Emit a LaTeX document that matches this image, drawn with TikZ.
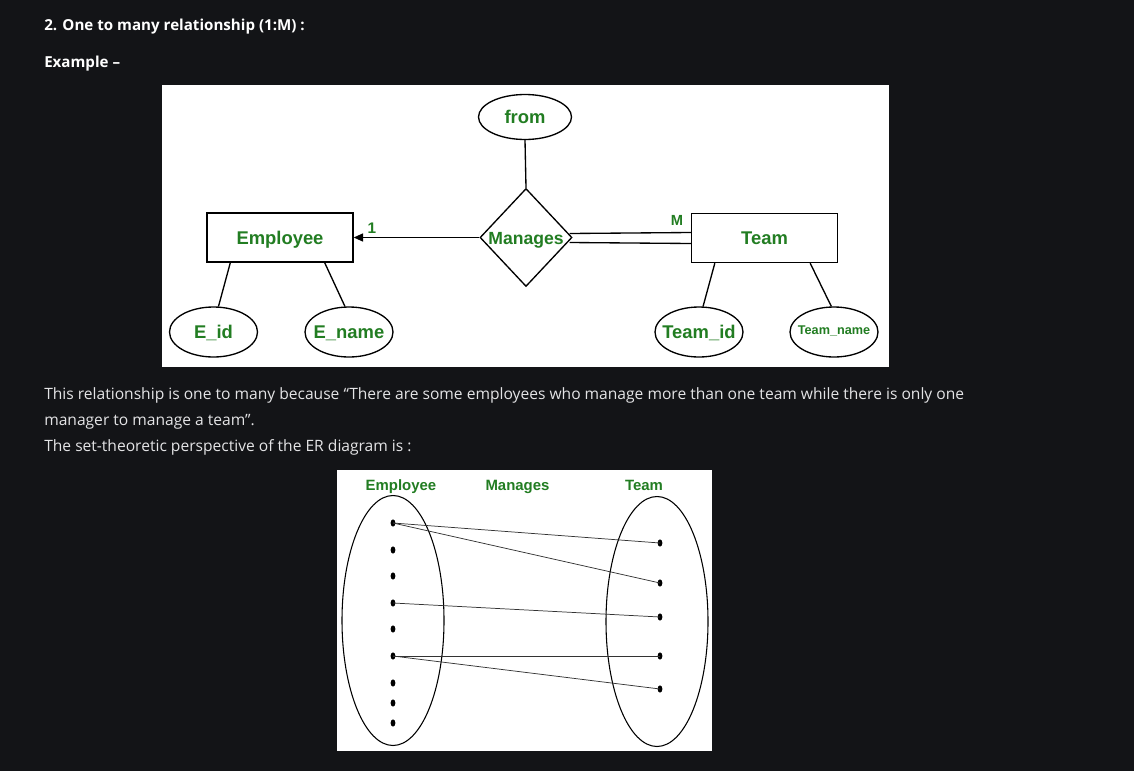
\documentclass[tikz,border=0pt]{standalone}
\usepackage{fontspec}
\setmainfont{Open Sans}
\newfontfamily\erfont{Liberation Sans}
\usetikzlibrary{shapes.geometric,arrows.meta,calc}
\definecolor{bgdark}{RGB}{19,20,23}
\definecolor{ergreen}{RGB}{34,125,34}
\definecolor{bodytext}{RGB}{228,228,230}
\tikzset{
  pagetext/.style={anchor=base west,inner sep=0,text=bodytext,font=\fontsize{11.7}{13}\selectfont},
  headtext/.style={anchor=base west,inner sep=0,text=white,font=\bfseries\fontsize{11.35}{13}\selectfont},
  ertext/.style={inner sep=0,text height=9.9pt,text depth=0pt,text=ergreen,font=\erfont\bfseries\fontsize{13.8}{15}\selectfont},
  entbox/.style={draw,line width=1pt,minimum width=109.5pt,minimum height=36.75pt,inner sep=0},
  attrell/.style={ellipse,draw,line width=1pt,minimum width=66pt,minimum height=37.5pt,inner sep=0},
  erline/.style={line width=1pt},
  setell/.style={ellipse,draw,line width=0.8pt,minimum width=76.5pt,minimum height=187.5pt,inner sep=0},
  setdot/.style={ellipse,fill=black,minimum width=3.6pt,minimum height=5.4pt,inner sep=0},
  mapline/.style={line width=0.55pt,draw=black!80},
  settitle/.style={anchor=base,inner sep=0,text=ergreen,font=\erfont\bfseries\fontsize{11.2}{13}\selectfont}
}
\begin{document}
\begin{tikzpicture}[x=0.75pt,y=-0.75pt]
\fill[bgdark] (0,0) rectangle (1134,771);
\useasboundingbox (0,0) rectangle (1134,771);
% page text
\node[headtext] (h1) at (44,31) {2. One to many relationship (1:M) :};
\node[headtext] (h2) at (44,67) {Example –};
\node[pagetext] (p1) at (44,399) {This relationship is one to many because “There are some employees who manage more than one team while there is only one};
\node[pagetext] (p2) at (44,425) {manager to manage a team”.};
\node[pagetext] (p3) at (44,451) {The set-theoretic perspective of the ER diagram is :};
% ER diagram panel
\fill[white] (162,85) rectangle (889,367);
\node[attrell,minimum width=69.75pt,minimum height=33.75pt] (from) at (525,117) {};
\node[ertext] at (from) {from};
\node[diamond,draw,line width=1pt,minimum width=69pt,minimum height=73.5pt,inner sep=0] (man) at (526,237.5) {};
\node[ertext,font=\erfont\bfseries\fontsize{13.2}{15}\selectfont] at (man) {Manages};
\node[entbox] (emp) at (280,237.5) {};
\node[ertext] at (emp) {Employee};
\node[entbox] (team) at (764.5,238) {};
\node[ertext] at (team) {Team};
\node[attrell] (eid) at (213.5,332) {};
\node[ertext] at (eid) {E\_id};
\node[attrell] (ename) at (349,332) {};
\node[ertext] at (ename) {E\_name};
\node[attrell] (tid) at (699,332) {};
\node[ertext] at (tid) {Team\_id};
\node[attrell] (tname) at (834,332) {};
\node[ertext,text height=6.8pt,font=\erfont\bfseries\fontsize{9.5}{11}\selectfont] at ($(tname)+(0,-2)$) {Team\_name};
\draw[erline] (from.south) -- (man.north);
\draw[erline,-{Triangle[length=7pt,width=6pt]}] (man.west) -- (emp.east);
\node[ertext,text height=8.2pt,font=\erfont\bfseries\fontsize{11.5}{13}\selectfont] (one) at (372,228) {1};
\draw[erline] ($(man.east)+(-3,-4)$) -- ($(team.west)+(0,-5.5)$);
\draw[erline] ($(man.east)+(-3,5)$) -- ($(team.west)+(0,5.5)$);
\node[ertext,text height=7.9pt,font=\erfont\bfseries\fontsize{11}{13}\selectfont] (mlab) at (677,220) {M};
\draw[erline] ($(emp.south west)+(24,0)$) -- (eid.79);
\draw[erline] ($(emp.south east)+(-29,0)$) -- (ename.99);
\draw[erline] ($(team.south west)+(24,0)$) -- (tid.81);
\draw[erline] ($(team.south east)+(-28,0)$) -- (tname.96);
% set-theoretic panel
\fill[white] (337,470) rectangle (712,751);
\node[settitle] (t1) at (401,490) {Employee};
\node[settitle] (t2) at (517.5,490) {Manages};
\node[settitle] (t3) at (644,490) {Team};
\node[setell] (lset) at (393,620.5) {};
\node[setell] (rset) at (657,621.5) {};
\foreach \i/\y in {1/523,2/550,3/576,4/603,5/629,6/656,7/683,8/703,9/723}
  \node[setdot] (l\i) at (393,\y) {};
\foreach \i/\y in {1/543,2/583,3/617,4/656,5/689}
  \node[setdot] (r\i) at (660,\y) {};
\draw[mapline] (l1.center) -- (r1.center);
\draw[mapline] (l1.center) -- (r2.center);
\draw[mapline] (l4.center) -- (r3.center);
\draw[mapline] (l6.center) -- (r4.center);
\draw[mapline] (l6.center) -- (r5.center);
\end{tikzpicture}
\end{document}
